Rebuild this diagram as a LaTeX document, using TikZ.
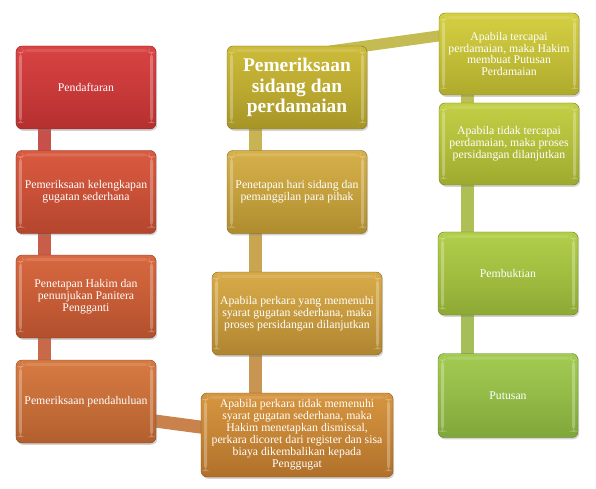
\documentclass[tikz,border=0pt]{standalone}
\usepackage{fontspec}
\setmainfont{Liberation Serif}
\usetikzlibrary{shadows,calc,backgrounds}
\definecolor{la}{HTML}{D94343}\definecolor{lab}{HTML}{B52F2F}
\definecolor{lb}{HTML}{D95A40}\definecolor{lbb}{HTML}{B4452D}
\definecolor{lc}{HTML}{D7683F}\definecolor{lcb}{HTML}{B24F2C}
\definecolor{ld}{HTML}{D67A42}\definecolor{ldb}{HTML}{B25F2E}
\definecolor{ma}{HTML}{CDBB3A}\definecolor{mab}{HTML}{A69526}
\definecolor{mb}{HTML}{D6B04A}\definecolor{mbb}{HTML}{AE8C2E}
\definecolor{mc}{HTML}{D8AA48}\definecolor{mcb}{HTML}{B08530}
\definecolor{md}{HTML}{D6953F}\definecolor{mdb}{HTML}{B0702A}
\definecolor{ra}{HTML}{D4CF42}\definecolor{rab}{HTML}{AEAA2C}
\definecolor{rb}{HTML}{C3CF45}\definecolor{rbb}{HTML}{9DAA2E}
\definecolor{rc}{HTML}{B2CE4A}\definecolor{rcb}{HTML}{8EA934}
\definecolor{rd}{HTML}{A3CB52}\definecolor{rdb}{HTML}{80A63A}
\definecolor{cl1}{HTML}{C8504A}\definecolor{cl2}{HTML}{C85E4A}\definecolor{cl3}{HTML}{C86A4A}
\definecolor{cm1}{HTML}{C8B455}\definecolor{cm2}{HTML}{C9A552}\definecolor{cm3}{HTML}{C99552}
\definecolor{cr1}{HTML}{BEBF52}\definecolor{cr2}{HTML}{AEBF56}\definecolor{cr3}{HTML}{A6BE5A}
\definecolor{ctop}{HTML}{C4BC52}\definecolor{cbot}{HTML}{C9824C}
\tikzset{
  gbox/.style n args={3}{draw=#2!75!black, line width=0.4pt, rounded corners=6bp,
    top color=#1, bottom color=#2, middle color=#1!55!#2,
    minimum width=#3, minimum height=83bp, inner sep=2bp,
    text=white, align=center, font=\fontsize{11.8}{12}\selectfont,
    drop shadow={shadow xshift=1.2bp, shadow yshift=-1.8bp, opacity=0.35},
    path picture={
      \fill[white,opacity=0.28] ([xshift=3bp,yshift=-6bp]path picture bounding box.north west) rectangle ([xshift=6bp,yshift=6bp]path picture bounding box.south west);
      \fill[white,opacity=0.28] ([xshift=-3bp,yshift=-6bp]path picture bounding box.north east) rectangle ([xshift=-6bp,yshift=6bp]path picture bounding box.south east);
      \fill[white,opacity=0.12] ([xshift=6bp,yshift=-3bp]path picture bounding box.north west) rectangle ([xshift=-6bp,yshift=-6bp]path picture bounding box.north east);
    }},
  conn/.style={line width=13bp, draw=#1}
}
\begin{document}
\begin{tikzpicture}[x=1bp,y=-1bp]
\useasboundingbox (0,0) rectangle (596,489);
% left column
\node[gbox={la}{lab}{140bp}] (L1) at (86,87.5) {Pendaftaran};
\node[gbox={lb}{lbb}{140bp}] (L2) at (86,192) {Pemeriksaan kelengkapan\\gugatan sederhana};
\node[gbox={lc}{lcb}{140bp}] (L3) at (86,296.5) {Penetapan Hakim dan\\penunjukan Panitera\\Pengganti};
\node[gbox={ld}{ldb}{140bp}] (L4) at (86,401.5) {Pemeriksaan pendahuluan};
% middle column
\node[gbox={ma}{mab}{140bp}, font=\fontsize{19.5}{20.5}\selectfont\bfseries] (M1) at (297,87.5) {Pemeriksaan\\sidang dan\\perdamaian};
\node[gbox={mb}{mbb}{140bp}] (M2) at (297,192) {Penetapan hari sidang dan\\pemanggilan para pihak};
\node[gbox={mc}{mcb}{170bp}] (M3) at (297,313.5) {Apabila perkara yang memenuhi\\syarat gugatan sederhana, maka\\proses persidangan dilanjutkan};
\node[gbox={md}{mdb}{192bp}, minimum height=84bp] (M4) at (297,435) {Apabila perkara tidak memenuhi\\syarat gugatan sederhana, maka\\Hakim menetapkan dismissal,\\perkara dicoret dari register dan sisa\\biaya dikembalikan kepada\\Penggugat};
% right column
\node[gbox={ra}{rab}{140bp}, minimum height=82bp] (R1) at (509,54) {Apabila tercapai\\perdamaian, maka Hakim\\membuat Putusan\\Perdamaian};
\node[gbox={rb}{rbb}{140bp}, minimum height=82bp] (R2) at (509,144) {Apabila tidak tercapai\\perdamaian, maka proses\\persidangan dilanjutkan};
\node[gbox={rc}{rcb}{140bp}] (R3) at (508,273.5) {Pembuktian};
\node[gbox={rd}{rdb}{140bp}, minimum height=84bp] (R4) at (508,395.5) {Putusan};
% connectors
\begin{scope}[on background layer]
\draw[conn=cl1] ([xshift=28.5bp]L1.west) -- ([xshift=28.5bp]L2.west);
\draw[conn=cl2] ([xshift=28.5bp]L2.west) -- ([xshift=28.5bp]L3.west);
\draw[conn=cl3] ([xshift=28.5bp]L3.west) -- ([xshift=28.5bp]L4.west);
\draw[conn=cm1] ([xshift=28.5bp]M1.west) -- ([xshift=28.5bp]M1.west |- M2.center);
\draw[conn=cm2] ([xshift=28.5bp]M1.west |- M2.center) -- ([xshift=28.5bp]M1.west |- M3.center);
\draw[conn=cm3] ([xshift=28.5bp]M1.west |- M3.center) -- ([xshift=28.5bp]M1.west |- M4.center);
\draw[conn=cr1] ([xshift=28.5bp]R1.west) -- ([xshift=28.5bp]R1.west |- R2.center);
\draw[conn=cr2] ([xshift=28.5bp]R1.west |- R2.center) -- ([xshift=28.5bp]R1.west |- R3.center);
\draw[conn=cr3] ([xshift=28.5bp]R1.west |- R3.center) -- ([xshift=28.5bp]R1.west |- R4.center);
\draw[conn=ctop, line width=11bp] ($(M1.center)+(33,-36.5)$) -- ($(R1.center)+(-49,-21)$);
\draw[conn=cbot] ($(L4.center)+(54,17.5)$) -- ($(M4.center)+(-82,-6)$);
\end{scope}
\end{tikzpicture}
\end{document}
